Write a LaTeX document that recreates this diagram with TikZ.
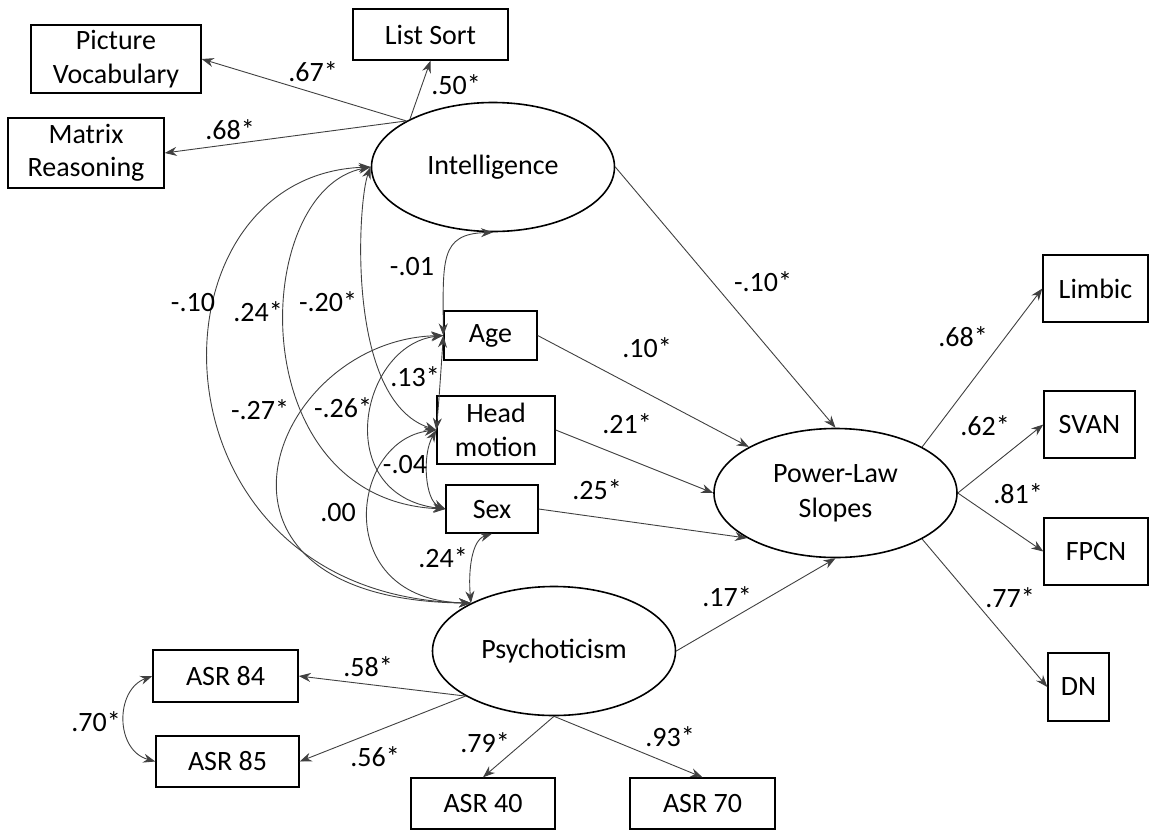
\documentclass[tikz,border=0pt]{standalone}
\usepackage{fontspec}
\setmainfont{Carlito}
\setsansfont{Carlito}
\usetikzlibrary{shapes.geometric,arrows.meta}

\begin{document}
\begin{tikzpicture}[x=1pt,y=-1pt,->,>={Stealth[length=12pt,width=9pt]},line width=0.9pt,
    obs node/.style={draw,rectangle,line width=1.4pt,fill=white,inner sep=0pt,align=center,font=\sffamily\fontsize{28}{33.5}\selectfont},
    lat node/.style={draw,ellipse,line width=1.6pt,fill=white,inner sep=0pt,align=center,minimum width=243pt,minimum height=129pt,font=\sffamily\fontsize{28}{35}\selectfont},
    coef/.style={font=\sffamily\fontsize{28}{33}\selectfont},
    reg/.style={draw=black!75,line width=0.9pt},
    cov/.style={<->,draw=black!75,line width=0.9pt}]
    \useasboundingbox (0,0) rectangle (1149,831);

    % latent variables
    \node[lat node] (int) at (493,167) {Intelligence};
    \node[lat node] (pl) at (835.5,493) {Power-Law\\Slopes};
    \node[lat node] (psy) at (554,651) {Psychoticism};

    % indicators and covariates
    \node[obs node,minimum width=170pt,minimum height=68pt] (pv) at (116,59) {Picture\\Vocabulary};
    \node[obs node,minimum width=156pt,minimum height=70pt] (mr) at (86,153) {Matrix\\Reasoning};
    \node[obs node,minimum width=155pt,minimum height=51pt] (ls) at (430.5,34.5) {List Sort};
    \node[obs node,minimum width=93pt,minimum height=49pt] (age) at (490.5,335.5) {Age};
    \node[obs node,minimum width=118pt,minimum height=68pt] (hm) at (496,430) {Head\\motion};
    \node[obs node,minimum width=92pt,minimum height=48pt] (sex) at (492,509) {Sex};
    \node[obs node,minimum width=105pt,minimum height=67pt] (limbic) at (1095.5,288.5) {Limbic};
    \node[obs node,minimum width=91pt,minimum height=67pt] (svan) at (1089.5,424.5) {SVAN};
    \node[obs node,minimum width=104pt,minimum height=67pt] (fpcn) at (1096,551.5) {FPCN};
    \node[obs node,minimum width=61pt,minimum height=68pt] (dn) at (1078.5,687) {DN};
    \node[obs node,minimum width=145pt,minimum height=52pt] (asr84) at (225.5,676) {ASR 84};
    \node[obs node,minimum width=143pt,minimum height=51pt] (asr85) at (227.5,761.5) {ASR 85};
    \node[obs node,minimum width=144pt,minimum height=51pt] (asr40) at (483,803.5) {ASR 40};
    \node[obs node,minimum width=145pt,minimum height=51pt] (asr70) at (702.5,803.5) {ASR 70};

    % loadings and paths
    \path[every edge/.append style={reg}]
        (int.152) edge (pv.east)
        (int.152) edge (mr.east)
        (int.150) edge (ls.south)
        (int.east) edge (pl.north)
        (age.east) edge (pl.152)
        (hm.east) edge (pl.west)
        (sex.east) edge (pl.207)
        (psy.east) edge (pl.south)
        (pl.28) edge (limbic.west)
        (pl.east) edge (svan.west)
        (pl.east) edge (fpcn.west)
        (pl.-28) edge (dn.west)
        (psy.207) edge (asr84.east)
        (psy.207) edge (asr85.east)
        (psy.south) edge (asr40.north)
        (psy.south) edge (asr70.north)
        ;

    % covariances
    \draw[cov] (int.west) .. controls (140,175) and (140,595) .. (psy.150);
    \draw[cov] (int.west) .. controls (250,190) and (240,500) .. (sex.west);
    \draw[cov] (int.west) .. controls (358,200) and (345,400) .. (hm.west);
    \draw[cov] (int.south) .. controls (440,234) and (443,260) .. (age.west);
    \draw[cov] (age.west) .. controls (441,370) and (439,400) .. (hm.west);
    \draw[cov] (age.west) .. controls (360,345) and (330,495) .. (sex.west);
    \draw[cov] (age.west) .. controls (270,340) and (170,600) .. (psy.150);
    \draw[cov] (hm.west) .. controls (422,455) and (425,500) .. (sex.west);
    \draw[cov] (hm.west) .. controls (350,440) and (330,600) .. (psy.150);
    \draw[cov] (sex.south) .. controls (472,540) and (468,570) .. (psy.150);
    \draw[cov] (asr84.west) .. controls (115,690) and (115,750) .. (asr85.west);

    % coefficients
    \node[coef] (c1) at (313,72) {.67*};
    \node[coef] (c2) at (456,85) {.50*};
    \node[coef] (c3) at (230,130) {.68*};
    \node[coef] (c4) at (412,267) {-.01};
    \node[coef] (c5) at (193,303) {-.10};
    \node[coef] (c6) at (258,312) {.24*};
    \node[coef] (c7) at (328,302) {-.20*};
    \node[coef] (c8) at (763,282) {-.10*};
    \node[coef] (c9) at (647,348) {.10*};
    \node[coef] (c10) at (415,377) {.13*};
    \node[coef] (c11) at (260,410) {-.27*};
    \node[coef] (c12) at (343,408) {-.26*};
    \node[coef] (c13) at (627,424) {.21*};
    \node[coef] (c14) at (405,465) {-.04};
    \node[coef] (c15) at (597,490) {.25*};
    \node[coef] (c16) at (338,513) {.00};
    \node[coef] (c17) at (443,558) {.24*};
    \node[coef] (c18) at (963,337) {.68*};
    \node[coef] (c19) at (985,426) {.62*};
    \node[coef] (c20) at (1018,494) {.81*};
    \node[coef] (c21) at (1010,598) {.77*};
    \node[coef] (c22) at (727,597) {.17*};
    \node[coef] (c23) at (368,667) {.58*};
    \node[coef] (c24) at (375,757) {.56*};
    \node[coef] (c25) at (485,743) {.79*};
    \node[coef] (c26) at (670,737) {.93*};
    \node[coef] (c27) at (96,722) {.70*};
\end{tikzpicture}
\end{document}
